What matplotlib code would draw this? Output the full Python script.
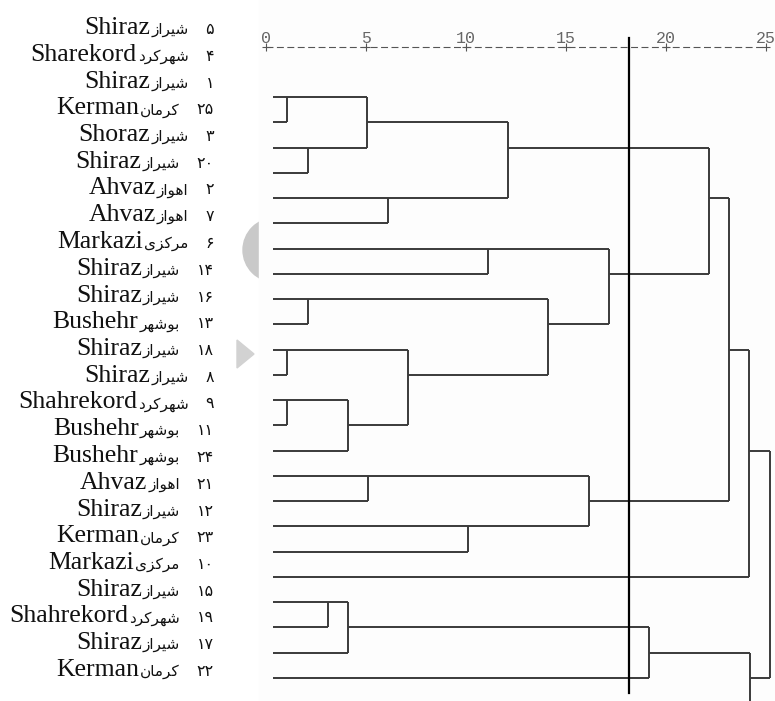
import numpy as np
import matplotlib
matplotlib.use("Agg")
import matplotlib.pyplot as plt
from matplotlib.patches import Circle, Polygon, Rectangle
from matplotlib.transforms import IdentityTransform

# -----------------------------
# DATA
# -----------------------------

# labels top to bottom: English name, Persian name, case number
en_names = ["Shiraz", "Sharekord", "Shiraz", "Kerman", "Shoraz", "Shiraz", "Ahvaz",
            "Ahvaz", "Markazi", "Shiraz", "Shiraz", "Bushehr", "Shiraz", "Shiraz",
            "Shahrekord", "Bushehr", "Bushehr", "Ahvaz", "Shiraz", "Kerman", "Markazi",
            "Shiraz", "Shahrekord", "Shiraz", "Kerman"]
fa_names = ["شیراز", "شهرکرد", "شیراز", "کرمان", "شیراز", "شیراز", "اهواز",
            "اهواز", "مرکزی", "شیراز", "شیراز", "بوشهر", "شیراز", "شیراز",
            "شهرکرد", "بوشهر", "بوشهر", "اهواز", "شیراز", "کرمان", "مرکزی",
            "شیراز", "شهرکرد", "شیراز", "کرمان"]
case_ids = [5, 4, 1, 25, 3, 20, 2, 7, 6, 14, 16, 13, 18, 8, 9, 11, 24, 21, 12,
            23, 10, 15, 19, 17, 22]

# linkage (rescaled distance 0-25). leaves are 0..24 in drawing order,
# each merge creates node 25, 26, ...
link_a = [0, 2, 4, 6, 8, 10, 12, 31, 30, 29, 28, 25, 36, 37, 15, 17, 39, 38,
          42, 20, 44, 45, 46, 43]
link_b = [1, 3, 5, 7, 9, 11, 13, 14, 32, 33, 34, 26, 27, 35, 16, 18, 40, 41,
          19, 21, 22, 23, 24, 47]
link_dist = [1.07, 2.08, 6.08, 11.1, 2.08, 1.05, 1.05, 4.08, 7.08, 14.1, 17.15,
             5.07, 12.1, 22.15, 5.08, 10.1, 16.15, 23.15, 24.15, 3.08, 4.08,
             19.15, 24.2, 25.2]

cut_dist = 18.15
axis_ticks = [0, 5, 10, 15, 20, 25]

# -----------------------------
# PERSIAN TEXT HELPERS (no bidi lib available)
# -----------------------------

# isolated, final, initial, medial
FORMS = {
    "ا": ("\ufe8d", "\ufe8e", None, None),
    "ب": ("\ufe8f", "\ufe90", "\ufe91", "\ufe92"),
    "د": ("\ufea9", "\ufeaa", None, None),
    "ر": ("\ufead", "\ufeae", None, None),
    "ز": ("\ufeaf", "\ufeb0", None, None),
    "ش": ("\ufeb5", "\ufeb6", "\ufeb7", "\ufeb8"),
    "م": ("\ufee1", "\ufee2", "\ufee3", "\ufee4"),
    "ن": ("\ufee5", "\ufee6", "\ufee7", "\ufee8"),
    "ه": ("\ufee9", "\ufeea", "\ufeeb", "\ufeec"),
    "و": ("\ufeed", "\ufeee", None, None),
    "ی": ("\ufbfc", "\ufbfd", "\ufbfe", "\ufbff"),
    "ک": ("\ufb8e", "\ufb8f", "\ufb90", "\ufb91"),
}
FA_DIGITS = str.maketrans("0123456789", "۰۱۲۳۴۵۶۷۸۹")


def shape_fa(word):
    out = []
    for i, ch in enumerate(word):
        iso, fin, ini, med = FORMS[ch]
        prev_joins = i > 0 and FORMS[word[i - 1]][2] is not None
        next_joins = i < len(word) - 1 and ini is not None
        if prev_joins and next_joins:
            out.append(med)
        elif prev_joins:
            out.append(fin)
        elif next_joins:
            out.append(ini)
        else:
            out.append(iso)
    return "".join(reversed(out))


# -----------------------------
# FIGURE
# -----------------------------

W, H = 775, 701
plt.rcParams["lines.scale_dashes"] = False
fig = plt.figure(figsize=(W / 100, H / 100), dpi=100)
fig.patch.set_facecolor("white")

# axes fills the figure: x = rescaled distance, y = leaf row
x0_px, x_step = 266, 20.0
y0_px, y_step = 97, 25.26
ax = fig.add_axes([0, 0, 1, 1])
ax.set_xlim(-x0_px / x_step, (W - x0_px) / x_step)
ax.set_ylim((H - y0_px) / y_step, -y0_px / y_step)
ax.axis("off")


def row_of(py):
    return (py - y0_px) / y_step


# faint watermark shapes left of the panel
ax.add_patch(Circle((275, H - 250), 32, color="#c9c9c9", transform=IdentityTransform(), zorder=0))
ax.add_patch(Polygon([(237, H - 340), (237, H - 368), (254, H - 354)], closed=True,
                     color="#d2d2d2", transform=IdentityTransform(), zorder=0))
ax.add_patch(Rectangle((259, 0), W - 259, H, color="#fdfdfd",
                       transform=IdentityTransform(), zorder=0.5))

# -----------------------------
# TOP SCALE (SPSS style)
# -----------------------------

ax.plot([axis_ticks[0], axis_ticks[-1]], [row_of(47)] * 2, color="#555555", lw=0.8,
        linestyle=(0, (5, 2.5)), zorder=2)
ax.plot(axis_ticks, [row_of(47)] * len(axis_ticks), linestyle="none", marker="+",
        markersize=6, mew=0.8, color="#555555", zorder=2)
for t in axis_ticks:
    ax.text(t, row_of(43), str(t), ha="center", va="baseline", fontsize=12,
            family="Liberation Mono", color="#666666")

# -----------------------------
# DENDROGRAM
# -----------------------------

n = len(case_ids)
leaf_start = 0.33
node_row = list(range(n))
node_dist = [leaf_start] * n
line_kw = dict(color="#3a3a3a", lw=1.4, solid_capstyle="butt", zorder=3)

for a, b, d in zip(link_a, link_b, link_dist):
    for c in (a, b):
        ax.plot([node_dist[c], d], [node_row[c]] * 2, **line_kw)
    ax.plot([d, d], [node_row[a], node_row[b]], **line_kw)
    node_row.append((node_row[a] + node_row[b]) // 2)
    node_dist.append(d)

# cut line
ax.plot([cut_dist, cut_dist], [row_of(38), row_of(693)], color="black", lw=1.6, zorder=4)

# -----------------------------
# LABELS
# -----------------------------

baselines = np.linspace(34, 676, n)
for en, fa, cid, yb in zip(en_names, fa_names, case_ids, baselines):
    yf = 1 - yb / H
    num_t = fig.text(214 / W, yf, str(cid).translate(FA_DIGITS), ha="right",
                     va="baseline", fontsize=11.5, family="DejaVu Sans", color="#111111")
    fa_t = ax.annotate(shape_fa(fa), xy=(0, yf), xycoords=(num_t, "figure fraction"),
                       xytext=(-17, 0), textcoords="offset pixels", ha="right",
                       va="baseline", fontsize=11, family="DejaVu Sans", color="#111111")
    ax.annotate(en, xy=(0, yf), xycoords=(fa_t, "figure fraction"),
                xytext=(-1, 0), textcoords="offset pixels", ha="right",
                va="baseline", fontsize=18.5, family="Liberation Serif", color="#111111")

fig.savefig("out.png", dpi=100, facecolor="white")
